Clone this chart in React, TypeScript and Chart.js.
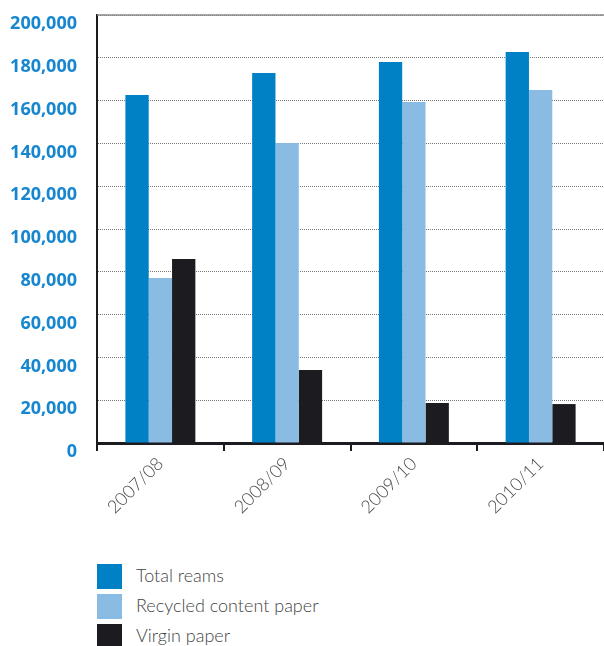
import React, { useEffect, useRef } from "react";
import { Chart, registerables } from "chart.js";

Chart.register(...registerables);

const categories = ["2007/08", "2008/09", "2009/10", "2010/11"];
const totalReams = [162600, 172900, 178000, 182700];
const recycledPaper = [77100, 140200, 159300, 165000];
const virginPaper = [86000, 34100, 18700, 18200];
const seriesNames = ["Total reams", "Recycled content paper", "Virgin paper"];
const seriesColors = ["#0081c6", "#8abbe2", "#1c1b20"];

const topLinePlugin = {
  id: "topLine",
  afterDraw(chart: any) {
    const { ctx, chartArea } = chart;
    ctx.save();
    ctx.strokeStyle = "#8a8a8a";
    ctx.lineWidth = 1.5;
    ctx.beginPath();
    ctx.moveTo(chartArea.left, chartArea.top);
    ctx.lineTo(chartArea.right, chartArea.top);
    ctx.stroke();
    ctx.restore();
  },
};

export default function App() {
  const ref = useRef<HTMLCanvasElement | null>(null);
  useEffect(() => {
    if (!ref.current) return;
    const values = [totalReams, recycledPaper, virginPaper];
    const chart = new Chart(ref.current, {
      type: "bar",
      data: {
        labels: categories,
        datasets: seriesNames.map((name, i) => ({
          label: name,
          data: values[i],
          backgroundColor: seriesColors[i],
          borderWidth: 0,
          barPercentage: 1,
          categoryPercentage: 0.552,
        })),
      },
      options: {
        animation: false,
        responsive: false,
        maintainAspectRatio: false,
        layout: { padding: { top: 15, right: 0, left: 0, bottom: 0 } },
        plugins: { legend: { display: false }, tooltip: { enabled: false } },
        scales: {
          x: {
            afterFit: (scale: any) => {
              scale.height = 75;
              scale.paddingLeft = 0;
              scale.paddingRight = 0;
            },
            grid: {
              offset: true,
              drawOnChartArea: false,
              drawTicks: true,
              tickLength: 8,
              color: "#1c1b20",
              lineWidth: 2,
            },
            border: { display: true, color: "#1c1b20", width: 3 },
            ticks: {
              maxRotation: 45,
              minRotation: 45,
              padding: 2,
              color: "#4a4a4a",
              font: { family: "Lato", size: 18, weight: "300" },
            },
          },
          y: {
            min: 0,
            max: 200000,
            afterFit: (scale: any) => {
              scale.width = 97;
              scale.paddingTop = 0;
              scale.paddingBottom = 0;
            },
            ticks: {
              stepSize: 20000,
              padding: 20,
              labelOffset: 9,
              color: "#1687cf",
              font: { family: "Open Sans", size: 18, weight: "bold" },
            },
            grid: {
              drawTicks: false,
              color: "#777777",
              lineWidth: 1,
            },
            border: { display: true, color: "#1c1b20", width: 2, dash: [1, 1] },
          },
        },
      },
      plugins: [topLinePlugin],
    });
    return () => chart.destroy();
  }, []);

  return (
    <div style={{ position: "fixed", left: 0, top: 0, width: 604, height: 646, background: "#fff" }}>
      <canvas ref={ref} width={604} height={518} style={{ position: "absolute", left: 0, top: 0, width: 604, height: 518 }} />
      <div style={{ position: "absolute", left: 97, top: 564 }}>
        {seriesNames.map((name, i) => (
          <div key={name} style={{ display: "flex", alignItems: "center", height: 25, marginBottom: 5 }}>
            <div style={{ width: 25, height: 25, background: seriesColors[i] }} />
            <span style={{ marginLeft: 14, fontFamily: "Lato", fontWeight: 300, fontSize: 18, color: "#444", position: "relative", top: -2 }}>{name}</span>
          </div>
        ))}
      </div>
    </div>
  );
}
